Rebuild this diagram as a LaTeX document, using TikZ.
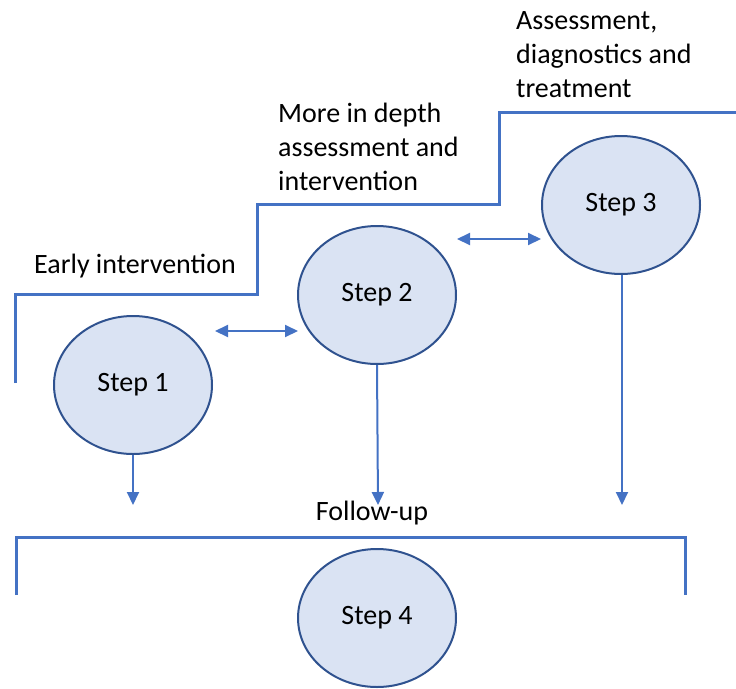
\documentclass[tikz,border=0pt]{standalone}
\usepackage{fontspec}
\setmainfont{Carlito}
\usetikzlibrary{arrows.meta,shapes.geometric}
\definecolor{lineblue}{HTML}{4472C4}
\definecolor{edgeblue}{HTML}{2F528F}
\definecolor{fillblue}{HTML}{DAE3F3}
\tikzset{
  stepnode/.style={ellipse,draw=edgeblue,fill=fillblue,line width=2pt,minimum width=158pt,minimum height=138pt,inner sep=0pt,font=\fontsize{28}{32}\selectfont},
  stair/.style={draw=lineblue,line width=3pt},
  flow/.style={draw=lineblue,line width=2pt,-{Triangle[length=13pt,width=12pt]}},
  twoway/.style={draw=lineblue,line width=2pt,{Triangle[length=13pt,width=12pt]}-{Triangle[length=13pt,width=12pt]}},
  lbl/.style={font=\fontsize{28}{34}\selectfont,align=left,inner sep=0pt}
}
\begin{document}
\begin{tikzpicture}[x=1pt,y=-1pt]
\useasboundingbox (0,0) rectangle (736,688);
% staircase
\coordinate (s0) at (15,383);
\coordinate (s1) at (15,294);
\coordinate (s2) at (257,294);
\coordinate (s3) at (257,204);
\coordinate (s4) at (499,204);
\coordinate (s5) at (499,112);
\coordinate (s6) at (736,112);
\draw[stair] (s0) -- (s1) -- (s2) -- (s3) -- (s4) -- (s5) -- (s6);
% follow-up bracket
\coordinate (b0) at (16,595);
\coordinate (b1) at (16,537);
\coordinate (b2) at (685,537);
\coordinate (b3) at (685,595);
\draw[stair] (b0) -- (b1) -- (b2) -- (b3);
% steps
\node[stepnode] (st1) at (133,385) {Step 1};
\node[stepnode] (st2) at (377,295) {Step 2};
\node[stepnode] (st3) at (621,205) {Step 3};
\node[stepnode] (st4) at (377,618) {Step 4};
% labels
\node[lbl,anchor=west] (l1) at (34,266) {Early intervention};
\node[lbl,anchor=west] (l2) at (278,147) {More in depth\\assessment and\\intervention};
\node[lbl,anchor=west] (l3) at (516,55) {Assessment,\\diagnostics and\\treatment};
\node[lbl] (l4) at (372,513) {Follow-up};
% arrow ends
\coordinate (e1) at (133,505);
\coordinate (e2) at (378,505);
\coordinate (e3) at (622,505);
\draw[flow] (st1.south) -- (e1);
\draw[flow] (st2.south) -- (e2);
\draw[flow] (st3.south -| e3) -- (e3);
\coordinate (d1a) at (215,331);
\coordinate (d1b) at (298,331);
\coordinate (d2a) at (457,239);
\coordinate (d2b) at (541,239);
\draw[twoway] (d1a) -- (d1b);
\draw[twoway] (d2a) -- (d2b);
\end{tikzpicture}
\end{document}
